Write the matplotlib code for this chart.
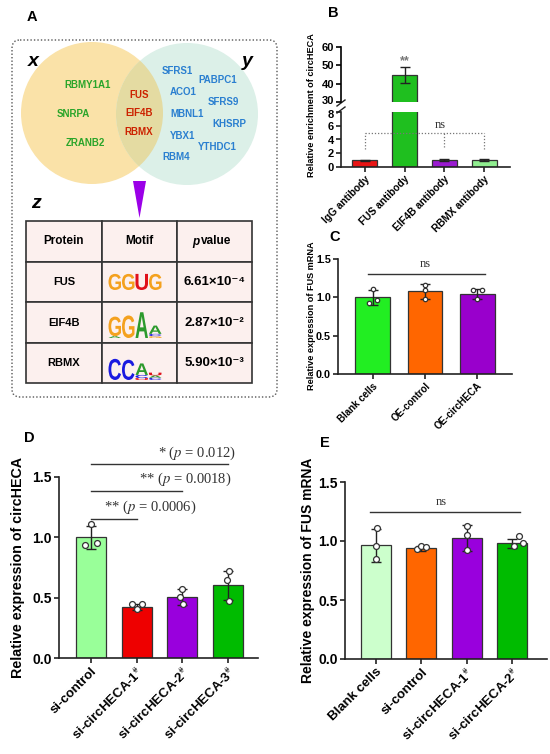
import numpy as np
import matplotlib
matplotlib.use("Agg")
import matplotlib.pyplot as plt
from matplotlib.patches import Circle, Rectangle, Polygon, FancyBboxPatch, PathPatch
from matplotlib.textpath import TextPath
from matplotlib.font_manager import FontProperties
import matplotlib.transforms as mtrans

plt.rcParams['font.family'] = ['Liberation Sans', 'DejaVu Sans']
plt.rcParams['mathtext.fontset'] = 'stix'
plt.rcParams['axes.linewidth'] = 1.2

# ---------------- data ----------------
# panel A: venn + motif table
venn_x_only = ["RBMY1A1", "SNRPA", "ZRANB2"]
venn_shared = ["FUS", "EIF4B", "RBMX"]
venn_y_only = ["SFRS1", "PABPC1", "ACO1", "SFRS9", "MBNL1", "KHSRP", "YBX1", "YTHDC1", "RBM4"]

table_header = ["Protein", "Motif", "p value"]
table_proteins = ["FUS", "EIF4B", "RBMX"]
table_pvalues = ["6.61×10⁻⁴", "2.87×10⁻²", "5.90×10⁻³"]
# motif columns, letters stacked bottom-up with relative heights
fus_motif = [[("G", 0.70)], [("G", 0.70)], [("U", 0.70)], [("G", 0.70)]]
eif4b_motif = [[("A", 0.08), ("G", 0.85)], [("G", 0.98)], [("A", 1.12)],
               [("G", 0.08), ("C", 0.10), ("A", 0.36)]]
rbmx_motif = [[("C", 0.92)], [("C", 0.88)], [("U", 0.08), ("C", 0.14), ("A", 0.50)],
              [("C", 0.10), ("A", 0.10), ("U", 0.12)]]

# panel B: RIP enrichment
b_groups = ["IgG antibody", "FUS antibody", "EIF4B antibody", "RBMX antibody"]
b_means = [1.0, 44.7, 1.05, 1.0]
b_sd = [0.08, 4.4, 0.15, 0.12]
b_colors = ["#e81414", "#1fbf1f", "#9a1ad0", "#90ee90"]

# panel C: FUS mRNA after overexpression
c_groups = ["Blank cells", "OE-control", "OE-circHECA"]
c_means = [1.0, 1.077, 1.047]
c_sd = [0.10, 0.10, 0.065]
c_points = [[1.11, 0.93, 0.97], [1.16, 1.10, 0.98], [1.09, 1.09, 0.98]]
c_colors = ["#22ee22", "#ff6600", "#9900cc"]

# panel D: circHECA after knockdown
d_groups = ["si-control", "si-circHECA-1$^{\\#}$", "si-circHECA-2$^{\\#}$", "si-circHECA-3$^{\\#}$"]
d_means = [1.0, 0.423, 0.508, 0.602]
d_sd = [0.095, 0.028, 0.065, 0.122]
d_points = [[1.11, 0.94, 0.95], [0.45, 0.45, 0.41], [0.575, 0.505, 0.445], [0.72, 0.645, 0.475]]
d_colors = ["#99ff99", "#ee0000", "#9900dd", "#00bb00"]
d_tests = ["** ($p$ = 0.0006)", "** ($p$ = 0.0018)", "* ($p$ = 0.012)"]

# panel E: FUS mRNA after knockdown
e_groups = ["Blank cells", "si-control", "si-circHECA-1$^{\\#}$", "si-circHECA-2$^{\\#}$"]
e_means = [0.965, 0.937, 1.027, 0.98]
e_sd = [0.14, 0.022, 0.11, 0.04]
e_points = [[1.11, 0.96, 0.85], [0.93, 0.96, 0.95], [1.13, 1.05, 0.92], [1.04, 0.96, 0.98]]
e_colors = ["#ccffcc", "#ff6600", "#9900dd", "#00bb00"]

# ---------------- layout helpers ----------------
W, H = 550, 754
fig = plt.figure(figsize=(W / 100, H / 100), dpi=100)

ov = fig.add_axes([0, 0, 1, 1])
ov.set_xlim(0, W)
ov.set_ylim(H, 0)
ov.axis("off")

def rect(l, t, r, b):
    return [l / W, (H - b) / H, (r - l) / W, (b - t) / H]

letter_colors = {"A": "#2c9a2c", "C": "#1a1ae0", "G": "#f4a11e", "U": "#e0101a"}
bold_prop = FontProperties(family="Liberation Sans", weight="bold")

def draw_letter(ch, x0, ybot, w, h):
    tp = TextPath((0, 0), ch, size=1, prop=bold_prop)
    bb = tp.get_extents()
    t = mtrans.Affine2D().translate(-bb.x0, -bb.y0).scale(w / bb.width, -h / bb.height).translate(x0, ybot)
    ov.add_patch(PathPatch(t.transform_path(tp), fc=letter_colors[ch], ec="none", lw=0))

def draw_motif(cols, x0, ybot, colw, full_h):
    for i, col in enumerate(cols):
        y = ybot
        for ch, frac in col:
            h = frac * full_h
            draw_letter(ch, x0 + i * colw + 0.5, y, colw - 1.0, h)
            y -= h

# ---------------- panel A ----------------
ov.text(32, 17, "A", fontsize=10.5, fontweight="bold", ha="center", va="center")
ov.add_patch(FancyBboxPatch((12, 40), 265, 357, boxstyle="round,pad=0,rounding_size=8",
                            fc="none", ec="#555555", lw=1.0, ls=(0, (1, 1.5))))
left_c = Circle((92, 113), 71, fc="#fae2a8", ec="none")
right_c = Circle((187, 114), 71, fc="#dcf0e8", ec="none")
ov.add_patch(left_c)
ov.add_patch(right_c)
lens = Circle((92, 113), 71, fc="#e4dba2", ec="none")
ov.add_patch(lens)
lens.set_clip_path(Circle((187, 114), 71, transform=ov.transData))

ov.text(33, 62, "x", fontsize=14, fontweight="bold", style="italic", ha="center", va="center")
ov.text(247, 62, "y", fontsize=14, fontweight="bold", style="italic", ha="center", va="center")
ov.text(36, 204, "z", fontsize=14, fontweight="bold", style="italic", ha="center", va="center")

x_only_pos = [(88, 85), (73, 114), (85, 143)]
shared_pos = [(139, 95), (139, 113), (139, 132)]
y_only_pos = [(177, 71), (218, 80), (183, 92), (223, 102), (187, 114),
              (229, 124), (183, 136), (217, 147), (176, 157)]
for name, (x, y) in zip(venn_x_only, x_only_pos):
    ov.text(x, y, name, fontsize=7, fontweight="bold", color="#2aa52a", ha="center", va="center")
for name, (x, y) in zip(venn_shared, shared_pos):
    ov.text(x, y, name, fontsize=7, fontweight="bold", color="#cc2200", ha="center", va="center")
for name, (x, y) in zip(venn_y_only, y_only_pos):
    ov.text(x, y, name, fontsize=7, fontweight="bold", color="#2a7fd0", ha="center", va="center")

ov.add_patch(Polygon([(133, 181), (146, 181), (139.5, 218)], closed=True, fc="#9b00e8", ec="none"))

# table
col_edges = [26, 102, 177, 252]
row_edges = [221, 262, 302, 343, 383]
for r in range(4):
    for c in range(3):
        ov.add_patch(Rectangle((col_edges[c], row_edges[r]), col_edges[c + 1] - col_edges[c],
                               row_edges[r + 1] - row_edges[r], fc="#fcf0ee", ec="#333333", lw=1.2))
hy = (row_edges[0] + row_edges[1]) / 2
ov.text(64, hy, table_header[0], fontsize=8.5, fontweight="bold", ha="center", va="center")
ov.text(139.5, hy, table_header[1], fontsize=8.5, fontweight="bold", ha="center", va="center")
ov.text(199, hy, table_header[2][0], fontsize=8.5, fontweight="bold", style="italic", ha="right", va="center")
ov.text(201, hy, table_header[2][2:], fontsize=8.5, fontweight="bold", ha="left", va="center")
motifs = [fus_motif, eif4b_motif, rbmx_motif]
motif_base = [290, 338, 380]
for i, prot in enumerate(table_proteins):
    cy = (row_edges[i + 1] + row_edges[i + 2]) / 2
    ov.text(64, cy, prot, fontsize=8, fontweight="bold", ha="center", va="center")
    ov.text(214.5, cy, table_pvalues[i], fontsize=9.5, fontweight="bold", ha="center", va="center")
    draw_motif(motifs[i], 108, motif_base[i], 13.5, 23)

# ---------------- common bar drawing ----------------
def style_axes(ax, tick_fs, lab_fs, labels, xlim):
    ax.set_facecolor("none")
    ax.spines[["top", "right"]].set_visible(False)
    for s in ["left", "bottom"]:
        ax.spines[s].set_color("#222222")
    ax.tick_params(axis="both", direction="out", length=3.5, width=1.2, color="#222222",
                   labelsize=tick_fs, pad=1.5)
    for lab in ax.get_yticklabels():
        lab.set_fontweight("bold")
    ax.set_xticks(np.arange(len(labels)))
    ax.set_xticklabels(labels, rotation=45, ha="right", rotation_mode="anchor",
                       fontsize=lab_fs, fontweight="bold")
    ax.set_xlim(*xlim)

def draw_bars(ax, means, sd, colors, width, capsize, points=None, jitter=None, ms=16):
    xs = np.arange(len(means))
    ax.bar(xs, means, width=width, color=colors, edgecolor="#333333", linewidth=0.9, zorder=2)
    ax.errorbar(xs, means, yerr=sd, fmt="none", ecolor="#222222", elinewidth=1.0,
                capsize=capsize, capthick=1.0, zorder=3)
    if points is not None:
        for i, pts in enumerate(points):
            ax.scatter(xs[i] + np.array(jitter[i]), pts, s=ms, facecolor="white",
                       edgecolor="#333333", linewidth=0.9, zorder=4, clip_on=False)

# ---------------- panel B ----------------
ov.text(333, 13, "B", fontsize=10.5, fontweight="bold", ha="center", va="center")
axb_top = fig.add_axes(rect(341, 47, 510, 102))
axb = fig.add_axes(rect(341, 112, 510, 167))
draw_bars(axb, b_means, b_sd, b_colors, 0.63, 3.5)
draw_bars(axb_top, b_means, b_sd, b_colors, 0.63, 3.5)
style_axes(axb, 8, 7.3, b_groups, (-0.6, 3.65))
axb.set_ylim(0, 8)
axb.set_yticks([0, 2, 4, 6, 8])
for lab in axb.get_yticklabels():
    lab.set_fontweight("bold")
axb_top.set_facecolor("none")
axb_top.set_ylim(30, 60)
axb_top.set_xlim(-0.6, 3.65)
axb_top.set_yticks([30, 40, 50, 60])
axb_top.tick_params(axis="y", direction="out", length=3.5, width=1.2, labelsize=8, pad=1.5)
for lab in axb_top.get_yticklabels():
    lab.set_fontweight("bold")
axb_top.set_xticks([])
for s in ["top", "right", "bottom"]:
    axb_top.spines[s].set_visible(False)
# nudge the two labels around the break apart
lab30 = axb_top.get_yticklabels()[0]
lab30.set_transform(lab30.get_transform() + mtrans.ScaledTranslation(0, 2 / 100, fig.dpi_scale_trans))
lab8 = axb.get_yticklabels()[-1]
lab8.set_transform(lab8.get_transform() + mtrans.ScaledTranslation(0, -2 / 100, fig.dpi_scale_trans))
axb_top.text(1, 52.5, "**", color="#777777", fontsize=9, fontweight="bold", ha="center", va="center")
# ns bracket
axb.plot([0, 3], [4.9, 4.9], color="#777777", lw=0.9, ls=(0, (1, 1.5)), clip_on=False)
for xi, yb in zip([0, 2, 3], [2.6, 2.9, 2.6]):
    axb.plot([xi, xi], [yb, 4.9], color="#777777", lw=0.9, ls=(0, (1, 1.5)), clip_on=False)
axb.text(1.9, 6.1, "ns", family="Liberation Serif", fontsize=9, color="#333333", ha="center", va="center")
# axis break marks
ov.plot([337, 345], [106, 100], color="#222222", lw=1.0)
ov.plot([337, 345], [113, 107], color="#222222", lw=1.0)
ov.text(312, 105, "Relative enrichment of circHECA", rotation=90, fontsize=6.6,
        fontweight="bold", ha="center", va="center")

# ---------------- panel C ----------------
ov.text(335, 237, "C", fontsize=10.5, fontweight="bold", ha="center", va="center")
axc = fig.add_axes(rect(338, 259, 512, 374))
c_jit = [[0, -0.08, 0.07], [0, 0, 0], [-0.07, 0.09, 0]]
draw_bars(axc, c_means, c_sd, c_colors, 0.67, 3.5, c_points, c_jit, ms=10)
axc.set_ylim(0, 1.5)
axc.set_yticks([0.0, 0.5, 1.0, 1.5])
axc.set_yticklabels(["0.0", "0.5", "1.0", "1.5"])
style_axes(axc, 7.8, 7, c_groups, (-0.67, 2.67))
axc.plot([-0.1, 2.15], [1.30, 1.30], color="#333333", lw=1.0, clip_on=False)
axc.text(1.0, 1.43, "ns", family="Liberation Serif", fontsize=9, color="#333333", ha="center", va="center")
ov.text(311, 316, "Relative expression of FUS mRNA", rotation=90, fontsize=6.6,
        fontweight="bold", ha="center", va="center")

# ---------------- panel D ----------------
ov.text(29, 438, "D", fontsize=10.5, fontweight="bold", ha="center", va="center")
axd = fig.add_axes(rect(59, 477, 258, 658))
d_jit = [[0, -0.13, 0.13], [-0.11, 0.11, 0], [0, -0.05, 0.02], [0.02, -0.03, 0.02]]
draw_bars(axd, d_means, d_sd, d_colors, 0.66, 3.6, d_points, d_jit, ms=18)
axd.set_ylim(0, 1.5)
axd.set_yticks([0.0, 0.5, 1.0, 1.5])
axd.set_yticklabels(["0.0", "0.5", "1.0", "1.5"])
style_axes(axd, 10, 9.5, d_groups, (-0.7, 3.66))
line_y = [1.155, 1.38, 1.61]
text_pos = [(1.29, 1.245), (2.06, 1.478), (2.32, 1.70)]
for k, txt in enumerate(d_tests):
    axd.plot([0, k + 1], [line_y[k], line_y[k]], color="#333333", lw=1.0, clip_on=False)
    axd.text(text_pos[k][0], text_pos[k][1], txt, family="Liberation Serif", fontsize=10.5,
             color="#333333", ha="center", va="center")
ov.text(18, 567, "Relative expression of circHECA", rotation=90, fontsize=10.3,
        fontweight="bold", ha="center", va="center")

# ---------------- panel E ----------------
ov.text(325, 443, "E", fontsize=10.5, fontweight="bold", ha="center", va="center")
axe = fig.add_axes(rect(345, 482, 547, 659))
e_jit = [[0.03, 0, 0], [-0.1, 0, 0.1], [0, 0, 0], [0.15, 0.05, 0.25]]
draw_bars(axe, e_means, e_sd, e_colors, 0.66, 3.6, e_points, e_jit, ms=18)
axe.set_ylim(0, 1.5)
axe.set_yticks([0.0, 0.5, 1.0, 1.5])
axe.set_yticklabels(["0.0", "0.5", "1.0", "1.5"])
style_axes(axe, 10, 9.5, e_groups, (-0.68, 3.77))
axe.plot([-0.13, 3.18], [1.247, 1.247], color="#333333", lw=1.0, clip_on=False)
axe.text(1.43, 1.33, "ns", family="Liberation Serif", fontsize=9, color="#333333", ha="center", va="center")
ov.text(308, 570, "Relative expression of FUS mRNA", rotation=90, fontsize=10,
        fontweight="bold", ha="center", va="center")

fig.savefig("out.png", dpi=100)
